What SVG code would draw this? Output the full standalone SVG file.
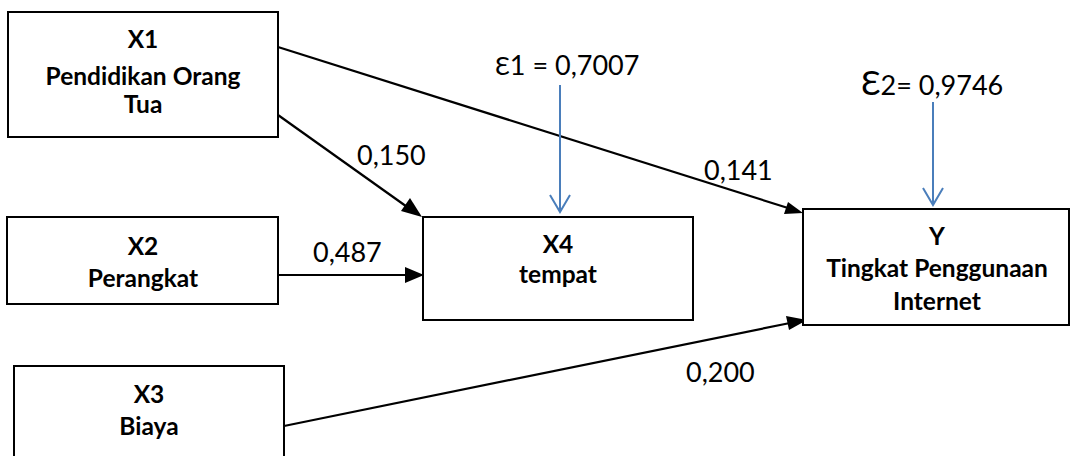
<svg xmlns="http://www.w3.org/2000/svg" width="1070" height="456" viewBox="0 0 1070 456">
  <style>
    .box { fill: #ffffff; stroke: #000000; stroke-width: 2; }
    .title { font-family: Lato, "Open Sans", sans-serif; font-weight: bold; font-size: 24.5px; text-anchor: middle; fill: #000000; }
    .coef { font-family: Lato, "Open Sans", sans-serif; font-size: 27px; fill: #000000; }
    .line { stroke: #000000; stroke-width: 2.2; fill: none; }
    .head { fill: #000000; }
    .err { stroke: #4a7ebb; stroke-width: 2; fill: none; }
  </style>

  <rect width="1070" height="456" fill="#ffffff"/>

  <!-- connectors -->
  <g id="connectors">
    <!-- X1 -> Y -->
    <path class="line" d="M278,47 L788,208"/>
    <path class="head" d="M803,213 L784,214 L788,202 Z"/>
    <!-- X1 -> X4 -->
    <path class="line" d="M278,115 L410,209"/>
    <path class="head" d="M422,217 L401,211 L410,198 Z"/>
    <!-- X2 -> X4 -->
    <path class="line" d="M278,275 L405,275"/>
    <path class="head" d="M424,275 L405,267 L405,283 Z"/>
    <!-- X3 -> Y -->
    <path class="line" d="M284,426 L790,323"/>
    <path class="head" d="M807,320 L789,330 L786,316 Z"/>
    <!-- error terms -->
    <path class="err" d="M560,85 L560,212 M550,195 L560,212 L570,195"/>
    <path class="err" d="M933,102 L933,205 M923,188 L933,205 L943,188"/>
  </g>

  <!-- coefficient labels -->
  <g id="labels">
    <text class="coef" x="357" y="165">0,150</text>
    <text class="coef" x="704" y="180">0,141</text>
    <text class="coef" x="313" y="262">0,487</text>
    <text class="coef" x="686" y="382">0,200</text>
    <text class="coef" x="495" y="75"><tspan font-size="25px">Ɛ</tspan>1 = 0,7007</text>
    <text class="coef" x="861" y="95"><tspan font-size="33px">Ɛ</tspan>2= 0,9746</text>
  </g>

  <g id="x1">
    <rect class="box" x="8" y="12" width="270" height="125"/>
    <text class="title" x="143" y="48">X1</text>
    <text class="title" x="143" y="85">Pendidikan Orang</text>
    <text class="title" x="143" y="113">Tua</text>
  </g>

  <g id="x2">
    <rect class="box" x="7" y="217" width="271" height="87"/>
    <text class="title" x="143" y="255">X2</text>
    <text class="title" x="143" y="287">Perangkat</text>
  </g>

  <g id="x3">
    <rect class="box" x="14" y="366" width="270" height="100"/>
    <text class="title" x="149" y="403">X3</text>
    <text class="title" x="149" y="435">Biaya</text>
  </g>

  <g id="x4">
    <rect class="box" x="423" y="217" width="270" height="103"/>
    <text class="title" x="558" y="253">X4</text>
    <text class="title" x="558" y="283">tempat</text>
  </g>

  <g id="y">
    <rect class="box" x="803" y="209" width="266" height="116"/>
    <text class="title" x="937" y="245">Y</text>
    <text class="title" x="937" y="277">Tingkat Penggunaan</text>
    <text class="title" x="937" y="310">Internet</text>
  </g>
</svg>
